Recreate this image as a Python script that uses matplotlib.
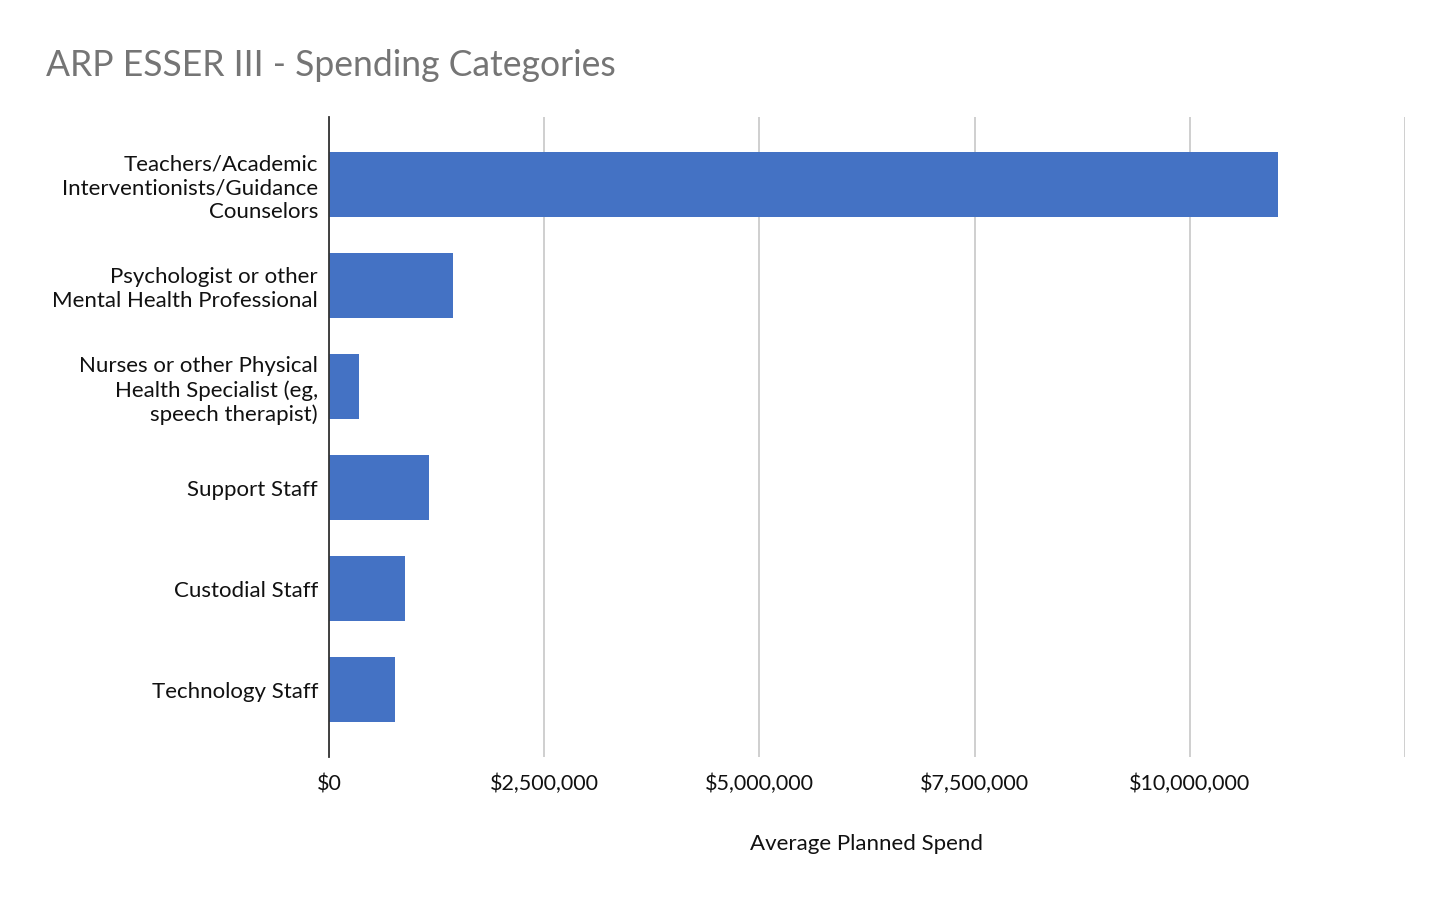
import matplotlib
matplotlib.use("Agg")
import matplotlib.pyplot as plt

categories = [
    "Teachers/Academic\nInterventionists/Guidance\nCounselors",
    "Psychologist or other\nMental Health Professional",
    "Nurses or other Physical\nHealth Specialist (eg,\nspeech therapist)",
    "Support Staff",
    "Custodial Staff",
    "Technology Staff",
]
values = [11020000, 1440000, 350000, 1160000, 880000, 770000]
tick_values = [0, 2500000, 5000000, 7500000, 10000000, 12500000]
tick_labels = ["$0", "$2,500,000", "$5,000,000", "$7,500,000", "$10,000,000", ""]

plt.rcParams['font.family'] = ['Lato', 'DejaVu Sans']

fig = plt.figure(figsize=(14.5, 9), dpi=100)
ax = fig.add_axes([329/1450, 1-757/900, (1405-329)/1450, (757-117)/900])

y = list(range(len(categories)))
ax.barh(y, values, height=0.645, color="#4472c4", zorder=3)
ax.set_ylim(len(categories)-1+0.665, -0.665)
ax.set_xlim(0, 12500000)

ax.set_xticks(tick_values)
ax.set_xticklabels(tick_labels, fontsize=15.5, color="#111111", va='baseline')
ax.set_yticks(y)
ax.set_yticklabels(categories, fontsize=16, color="#111111", linespacing=1.25)
ax.tick_params(axis='both', length=0)
ax.tick_params(axis='x', pad=24)
ax.tick_params(axis='y', pad=8)

ax.grid(axis='x', color="#cccccc", linewidth=1.3, zorder=0)
for s in ['top', 'right', 'bottom']:
    ax.spines[s].set_visible(False)
ax.spines['left'].set_color("#333333")
ax.spines['left'].set_linewidth(1.3)
ax.spines['left'].set_zorder(4)

ax.set_xlabel("Average Planned Spend", fontsize=16, color="#111111", labelpad=28.5)

fig.text(46/1450, 1-65/900, "ARP ESSER III - Spending Categories", fontsize=25.6,
         color="#757575", va='center', ha='left')

fig.savefig("out.png", dpi=100, facecolor="white")
